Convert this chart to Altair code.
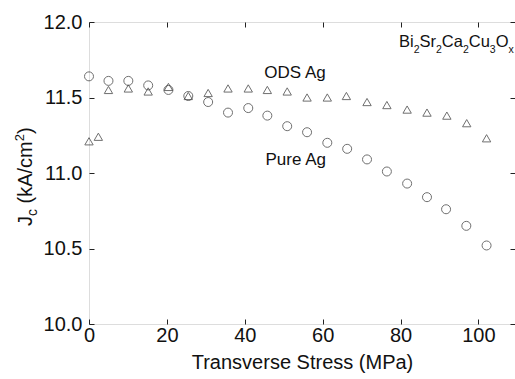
import altair as alt
import pandas as pd

# Data
pure_x = [0, 5.0, 10.1, 15.2, 20.4, 25.5, 30.6, 35.7, 40.9, 45.8, 50.9, 56.0, 61.2,
          66.3, 71.4, 76.5, 81.7, 86.8, 91.7, 96.9, 102.1]
pure_y = [11.64, 11.61, 11.61, 11.58, 11.55, 11.51, 11.47, 11.40, 11.43, 11.38, 11.31,
          11.27, 11.20, 11.16, 11.09, 11.01, 10.93, 10.84, 10.76, 10.65, 10.52]
ods_x = [0, 2.4, 5.0, 10.1, 15.2, 20.4, 25.5, 30.6, 35.7, 40.9, 45.8, 50.9, 56.0,
         61.2, 66.1, 71.4, 76.5, 81.7, 86.8, 91.9, 97.0, 102.1]
ods_y = [11.21, 11.24, 11.55, 11.56, 11.54, 11.57, 11.51, 11.53, 11.56, 11.56, 11.55,
         11.54, 11.50, 11.50, 11.51, 11.47, 11.45, 11.42, 11.40, 11.38, 11.33, 11.23]
x_ticks = [0, 20, 40, 60, 80, 100]
y_ticks = [10.0, 10.5, 11.0, 11.5, 12.0]

FONT = "Liberation Sans"
W, H = 426, 302

pure_df = pd.DataFrame({"x": pure_x, "y": pure_y})
ods_df = pd.DataFrame({"x": ods_x, "y": ods_y})

xs = alt.Scale(domain=[0, 109.4], nice=False, zero=False)
ys = alt.Scale(domain=[10, 12], nice=False, zero=False)

common_axis = dict(offset=-5, tickSize=5, domain=False, grid=False, tickColor="#222",
                   tickWidth=1, labelFlush=False)

x_axis = alt.Axis(orient="bottom", values=x_ticks, labelPadding=1, labelFontSize=20,
                  labelColor="#111", title="Transverse Stress (MPa)", titleFontSize=20,
                  titleFontWeight="normal", titleColor="#111", titlePadding=7,
                  labelFont=FONT, titleFont=FONT, **common_axis)
y_axis = alt.Axis(orient="left", values=y_ticks, format=".1f", labelPadding=7,
                  labelFontSize=20, labelColor="#111", title=None, labelFont=FONT,
                  **common_axis)
x_top = alt.Axis(orient="top", values=x_ticks, labels=False, title=None, **common_axis)
y_right = alt.Axis(orient="right", values=y_ticks, labels=False, title=None, **common_axis)

circles = alt.Chart(pure_df).mark_point(shape="circle", size=81, filled=False,
                                        stroke="#333", strokeWidth=1).encode(
    x=alt.X("x:Q", scale=xs, axis=x_axis),
    y=alt.Y("y:Q", scale=ys, axis=y_axis),
)
triangles = alt.Chart(ods_df).mark_point(shape="triangle-up", size=70, filled=False,
                                         stroke="#333", strokeWidth=1).encode(
    x=alt.X("x:Q", scale=xs, axis=x_top),
    y=alt.Y("y:Q", scale=ys, axis=y_right),
)

one = alt.Data(values=[{}])


def label(txt, x, y, size, align="center", dx=0, dy=0):
    return alt.Chart(one).mark_text(text=txt, fontSize=size, font=FONT, color="#111",
                                    align=align, baseline="alphabetic", dx=dx, dy=dy).encode(
        x=alt.X("xv:Q", scale=xs, axis=None),
        y=alt.Y("yv:Q", scale=ys, axis=None),
    ).transform_calculate(xv=str(x), yv=str(y))


layers = [circles, triangles,
          label("ODS Ag", 52.9, 11.626, 17),
          label("Pure Ag", 53.1, 11.052, 17)]

# Bi2Sr2Ca2Cu3Ox with real subscripts
widths = {'B': 667, 'i': 222, 'S': 667, 'r': 333, 'C': 722, 'a': 556, 'u': 556,
          'O': 778, '2': 556, '3': 556, 'x': 500, '(': 333, 'k': 500, 'A': 667,
          '/': 278, 'c': 500, 'm': 833, ')': 333, 'J': 500}
pieces = [("Bi", False), ("2", True), ("Sr", False), ("2", True), ("Ca", False),
          ("2", True), ("Cu", False), ("3", True), ("O", False), ("x", True)]
MAIN, SUB = 16.5, 10.5
cum = 0.0
for txt, sub in pieces:
    size = SUB if sub else MAIN
    layers.append(label(txt, 79.6, 11.835, size, align="left", dx=cum, dy=6.5 if sub else 0))
    cum += sum(widths[c] for c in txt) * size / 1000.0


# Y axis title: J_c (kA/cm^2), rotated; pieces laid along the rotated baseline
def vtext(txt, px, py, size):
    return alt.Chart(one).mark_text(text=txt, fontSize=size, font=FONT, color="#111",
                                    angle=270, align="left", baseline="alphabetic").encode(
        x=alt.value(px), y=alt.value(py))


BASE_X = -57.3
ytitle = [("J", 0, 20), ("c", 5, 14), (" ", 0, 20), ("(kA/cm", 0, 20), ("2", -7.5, 13),
          (")", 0, 20)]
pos = 204.0
for txt, shift, size in ytitle:
    if txt.strip():
        layers.append(vtext(txt, BASE_X + shift, pos, size))
    pos -= sum(widths.get(c, 278) for c in txt) * size / 1000.0

chart = alt.layer(*layers).resolve_axis(x="independent", y="independent").properties(
    width=W, height=H, autosize=alt.AutoSizeParams(type="none"),
    padding={"left": 89, "top": 22, "right": 0, "bottom": 55},
    background="white",
).configure_view(stroke="#222", strokeWidth=1).configure(font=FONT)

chart.save("out.html", embed_options={"renderer": "svg", "actions": False})
